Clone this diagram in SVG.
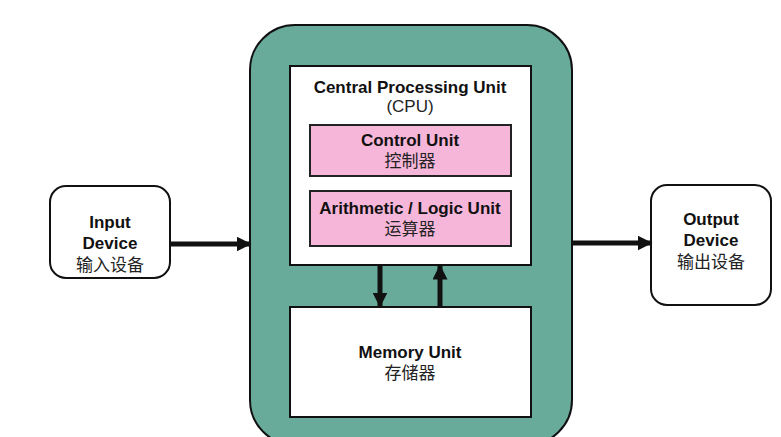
<svg xmlns="http://www.w3.org/2000/svg" width="781" height="437" viewBox="0 0 781 437">
<defs>
<style>
.t{font-family:"Liberation Sans","Noto Sans CJK SC",sans-serif;font-size:17px;font-weight:bold;fill:#111;text-anchor:middle}
.n{font-family:"Liberation Sans","Noto Sans CJK SC",sans-serif;font-size:17px;fill:#222;text-anchor:middle}
.box{fill:#fff;stroke:#111;stroke-width:2}
.pink{fill:#f6b6d9;stroke:#222;stroke-width:2}
.arr{stroke:#111;stroke-width:5;fill:none}
</style>
<marker id="ah" viewBox="0 0 10 10" refX="9" refY="5" markerWidth="3" markerHeight="3" orient="auto" markerUnits="strokeWidth">
<path d="M0,0 L10,5 L0,10 z" fill="#111"/>
</marker>
</defs>
<rect width="781" height="437" fill="#fff"/>
<g id="computer">
<rect x="250" y="25" width="322" height="420" rx="45" fill="#68ab9b" stroke="#111" stroke-width="2"/>
</g>
<g id="cpu">
<rect class="box" x="290" y="66" width="241" height="199"/>
<text class="t" x="410" y="93">Central Processing Unit</text>
<text class="n" x="410" y="112">(CPU)</text>
</g>
<g id="control-unit">
<rect class="pink" x="310" y="125" width="201" height="51"/>
<text class="t" x="410" y="146">Control Unit</text>
<text class="n" x="410" y="167">控制器</text>
</g>
<g id="alu">
<rect class="pink" x="310" y="191" width="201" height="55"/>
<text class="t" x="410" y="214">Arithmetic / Logic Unit</text>
<text class="n" x="410" y="235">运算器</text>
</g>
<g id="memory">
<rect class="box" x="290" y="307" width="241" height="110"/>
<text class="t" x="410" y="358">Memory Unit</text>
<text class="n" x="410" y="379">存储器</text>
</g>
<g id="input">
<rect class="box" x="50" y="186" width="120" height="92" rx="16"/>
<text class="t" x="110" y="228">Input</text>
<text class="t" x="110" y="249">Device</text>
<text class="n" x="110" y="271">输入设备</text>
</g>
<g id="output">
<rect class="box" x="651" y="185" width="120" height="120" rx="16"/>
<text class="t" x="711" y="225">Output</text>
<text class="t" x="711" y="246">Device</text>
<text class="n" x="711" y="268">输出设备</text>
</g>
<g id="connectors">
<line class="arr" x1="170" y1="244" x2="250" y2="244" marker-end="url(#ah)"/>
<line class="arr" x1="572" y1="243" x2="651" y2="243" marker-end="url(#ah)"/>
<line class="arr" x1="380" y1="266" x2="380" y2="306" marker-end="url(#ah)"/>
<line class="arr" x1="440" y1="306" x2="440" y2="266" marker-end="url(#ah)"/>
</g>
</svg>
